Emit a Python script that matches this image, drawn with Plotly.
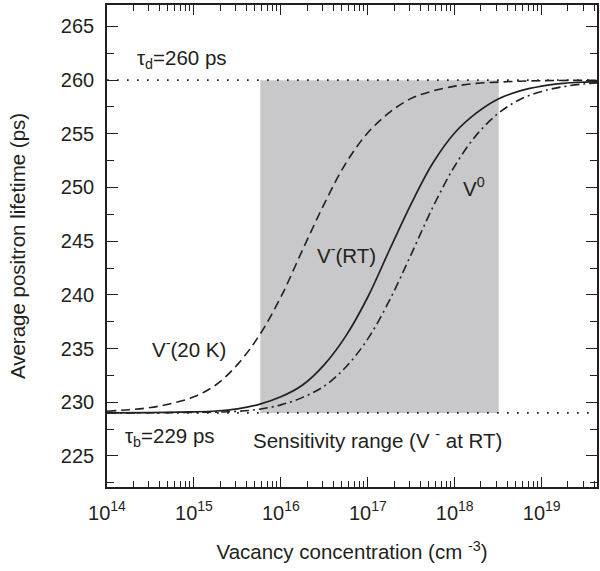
import numpy as np
import plotly.graph_objects as go

# ---- data ----
tau_b = 229.0
tau_d = 260.0
sens_range = [5.8e15, 3.2e18]

# V- (20 K)  dashed
logc_20k = [14.0, 14.25, 14.5, 14.75, 15.0, 15.25, 15.5, 15.75, 16.0, 16.25, 16.5, 16.75,
            17.0, 17.25, 17.5, 17.75, 18.0, 18.25, 18.5, 18.75, 19.0, 19.65]
tau_20k = [229.16, 229.3, 229.5, 229.9, 230.5, 231.6, 233.5, 236.2, 239.8, 244.2, 248.5, 252.3,
           255.1, 257.0, 258.3, 259.0, 259.44, 259.7, 259.82, 259.9, 259.95, 259.99]

# V- (RT)  solid
logc_rt = [14.0, 14.5, 15.0, 15.25, 15.5, 15.75, 16.0, 16.25, 16.5, 16.75, 17.0, 17.25,
           17.5, 17.75, 18.0, 18.25, 18.5, 18.75, 19.0, 19.25, 19.5, 19.65]
tau_rt = [229.0, 229.03, 229.1, 229.18, 229.38, 229.8, 230.5, 231.6, 233.5, 236.2, 239.8, 244.2,
          248.5, 252.3, 255.1, 256.95, 258.25, 259.0, 259.45, 259.7, 259.82, 259.87]

# V0  dash-dot
logc_v0 = [14.0, 15.0, 15.5, 15.75, 16.0, 16.25, 16.5, 16.75, 17.0, 17.25, 17.5, 17.75,
           18.0, 18.25, 18.5, 18.75, 19.0, 19.25, 19.5, 19.65]
tau_v0 = [229.0, 229.05, 229.15, 229.35, 229.75, 230.45, 231.5, 233.3, 235.9, 239.5, 243.8, 248.2,
          252.0, 254.9, 256.9, 258.2, 258.95, 259.4, 259.66, 259.75]

x_tick_exp = [14, 15, 16, 17, 18, 19]
x_range_log = [14.0, 19.636]
y_range = [222.1, 267.0]

conc_20k = [10.0 ** v for v in logc_20k]
conc_rt = [10.0 ** v for v in logc_rt]
conc_v0 = [10.0 ** v for v in logc_v0]

INK = "#231f20"
FONT = "Arial, Liberation Sans, sans-serif"
FS = 20.5

fig = go.Figure()

# sensitivity range shading
fig.add_trace(go.Scatter(
    x=[sens_range[0], sens_range[1], sens_range[1], sens_range[0], sens_range[0]],
    y=[tau_b, tau_b, tau_d, tau_d, tau_b],
    fill="toself", fillcolor="#c8c8ca", line=dict(width=0), mode="lines",
    hoverinfo="skip", showlegend=False))

x_full = [10.0 ** x_range_log[0], 10.0 ** x_range_log[1]]
for lvl in (tau_b, tau_d):
    fig.add_trace(go.Scatter(x=x_full, y=[lvl, lvl], mode="lines",
                             line=dict(color=INK, width=1.7, dash="1.7px,8.3px"),
                             showlegend=False, hoverinfo="skip"))

fig.add_trace(go.Scatter(x=conc_20k, y=tau_20k, mode="lines",
                         line=dict(color=INK, width=1.6, dash="9px,5px", shape="spline", smoothing=1.0),
                         showlegend=False))
fig.add_trace(go.Scatter(x=conc_rt, y=tau_rt, mode="lines",
                         line=dict(color=INK, width=1.7, shape="spline", smoothing=1.0),
                         showlegend=False))
fig.add_trace(go.Scatter(x=conc_v0, y=tau_v0, mode="lines",
                         line=dict(color=INK, width=1.6, dash="9px,4px,2px,4px", shape="spline", smoothing=1.0),
                         showlegend=False))

minor_x = [float(m) * 10.0 ** e for e in range(14, 20) for m in range(2, 10)]

fig.update_xaxes(
    type="log", range=x_range_log,
    tickvals=[10.0 ** e for e in x_tick_exp],
    ticktext=[f"10<sup>{e}</sup>" for e in x_tick_exp],
    ticks="inside", ticklen=10, tickwidth=1.3, tickcolor=INK,
    minor=dict(tickvals=minor_x, ticks="inside", ticklen=6, tickwidth=1.2, tickcolor=INK),
    showline=True, linecolor=INK, linewidth=1.6, mirror="allticks",
    showgrid=False, zeroline=False, ticklabelstandoff=7,
    tickfont=dict(family=FONT, size=20, color=INK),
    title=dict(text="Vacancy concentration (cm <sup>-3</sup>)",
               font=dict(family=FONT, size=FS, color=INK), standoff=22),
)
fig.update_yaxes(
    range=y_range, tick0=225, dtick=5,
    ticks="inside", ticklen=11, tickwidth=1.3, tickcolor=INK,
    minor=dict(dtick=2.5, tick0=222.5, ticks="inside", ticklen=7, tickwidth=1.2, tickcolor=INK),
    showline=True, linecolor=INK, linewidth=1.6, mirror="allticks",
    showgrid=False, zeroline=False, ticklabelstandoff=7,
    tickfont=dict(family=FONT, size=20, color=INK),
    title=dict(text="Average positron lifetime (ps)",
               font=dict(family=FONT, size=FS, color=INK), standoff=30),
)

def ann(text, xlog, y, anchor="left"):
    fig.add_annotation(x=xlog, y=y, xref="x", yref="y", text=text, showarrow=False,
                       xanchor=anchor, yanchor="middle",
                       font=dict(family=FONT, size=FS, color=INK))

ann("τ<sub>d</sub>=260 ps", 14.32, 262.0)
ann("τ<sub>b</sub>=229 ps", 14.18, 226.8)
ann("Sensitivity range (V <sup>-</sup> at RT)", 15.66, 226.55)
ann("V<sup>-</sup>(20 K)", 14.49, 235.05)
ann("V<sup>-</sup>(RT)", 16.39, 243.8)
ann("V<sup>0</sup>", 18.07, 250.0)

fig.update_layout(
    width=600, height=571,
    margin=dict(l=107, r=1, t=5, b=84),
    plot_bgcolor="white", paper_bgcolor="white",
    font=dict(family=FONT, size=FS, color=INK),
)

fig.write_html("out.html")
